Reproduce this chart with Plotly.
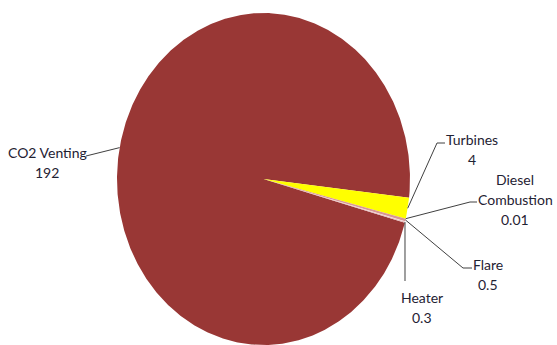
import math
import plotly.graph_objects as go

# ---- data ----
categories = ["CO2 Venting", "Turbines", "Diesel<br>Combustion", "Flare", "Heater"]
name_lines = [["CO2 Venting"], ["Turbines"], ["Diesel", "Combustion"], ["Flare"], ["Heater"]]
values = [192, 4, 0.01, 0.5, 0.3]
value_labels = ["192", "4", "0.01", "0.5", "0.3"]
colors = ["#993735", "#FFFF00", "#C0504D", "#D99694", "#E6B9B8"]

# ---- layout constants (pixel-like axis space) ----
W, H = 557, 345
CX, CY, RX, RY = 263.5, 179.0, 146.5, 166.0
START_DEG = -15.3  # angle (ccw from 3 o'clock) where first slice starts, drawn clockwise

# label layout: (text center x, first line y), elbow point, end-of-line point
label_pos = [
    (47, 152, (86, 156), None),
    (472, 139, (437, 143), (445, 143)),
    (515, 179, (470, 202), (477, 202)),
    (488, 264, (463, 268), (472, 268)),
    (422, 297, (405, 281), None),
]
LINE_H = 20
TEXT_COLOR = "#1f2233"
FONT = "Lato, Carlito, Calibri, sans-serif"

total = sum(values)

def pt(deg):
    r = math.radians(deg)
    return CX + RX * math.cos(r), CY - RY * math.sin(r)

fig = go.Figure()
ang = START_DEG
mids = []
for cat, v, c in zip(categories, values, colors):
    span = 360.0 * v / total
    a0, a1 = ang, ang - span
    n = max(2, int(abs(span) * 2) + 2)
    xs, ys = [CX], [CY]
    for i in range(n + 1):
        x, y = pt(a0 + (a1 - a0) * i / n)
        xs.append(x); ys.append(y)
    xs.append(CX); ys.append(CY)
    fig.add_trace(go.Scatter(x=xs, y=ys, mode="lines", fill="toself",
                             fillcolor=c, line=dict(width=0, color=c),
                             hoverinfo="text", text=cat, showlegend=False))
    mids.append((a0 + a1) / 2)
    ang = a1

# leader lines and labels
for i, (lines, vl) in enumerate(zip(name_lines, value_labels)):
    tx, ty, elbow, end = label_pos[i]
    ax, ay = pt(mids[i])
    lx = [ax, elbow[0]]
    ly = [ay, elbow[1]]
    if end is not None:
        lx.append(end[0]); ly.append(end[1])
    fig.add_trace(go.Scatter(x=lx, y=ly, mode="lines",
                             line=dict(color="#404040", width=1),
                             hoverinfo="skip", showlegend=False))
    all_lines = lines + [vl]
    for j, t in enumerate(all_lines):
        fig.add_annotation(x=tx, y=ty + j * LINE_H, text=t, showarrow=False,
                           xanchor="center", yanchor="middle",
                           font=dict(family=FONT, size=14, color=TEXT_COLOR))

fig.update_layout(
    width=W, height=H, margin=dict(l=0, r=0, t=0, b=0),
    paper_bgcolor="white", plot_bgcolor="white",
    xaxis=dict(range=[0, W], visible=False, fixedrange=True),
    yaxis=dict(range=[H, 0], visible=False, fixedrange=True),
    showlegend=False,
)
fig.write_html("out.html")
